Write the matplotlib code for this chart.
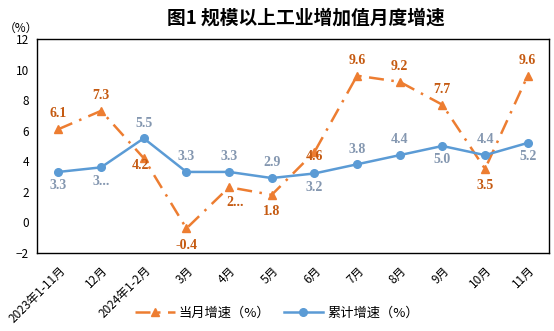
import matplotlib.pyplot as plt

plt.rcParams['font.family'] = ['Noto Sans CJK SC', 'DejaVu Sans']

# categories and values
months = ["2023年1-11月", "12月", "2024年1-2月", "3月", "4月", "5月",
          "6月", "7月", "8月", "9月", "10月", "11月"]
monthly = [6.1, 7.3, 4.2, -0.4, 2.3, 1.8, 4.6, 9.6, 9.2, 7.7, 3.5, 9.6]
cumulative = [3.3, 3.6, 5.5, 3.3, 3.3, 2.9, 3.2, 3.8, 4.4, 5.0, 4.4, 5.2]
# Excel truncated a couple of labels in the original
monthly_text = ["6.1", "7.3", "4.2", "-0.4", "2...", "1.8", "4.6", "9.6", "9.2", "7.7", "3.5", "9.6"]
cumulative_text = ["3.3", "3...", "5.5", "3.3", "3.3", "2.9", "3.2", "3.8", "4.4", "5.0", "4.4", "5.2"]

# label placement (offset in points)
monthly_off = [(0, 11), (0, 11), (-2, -5), (0, -12), (4, -11), (0, -12),
               (0, -3), (0, 11), (0, 11), (0, 11), (0, -12), (0, 11)]
cumulative_off = [(0, -10), (0, -10), (0, 11), (0, 11), (0, 11), (0, 11),
                  (0, -10), (0, 11), (0, 11), (0, -10), (0, 11), (0, -10)]

ORANGE = "#ED7D31"
BLUE = "#5B9BD5"

fig = plt.figure(figsize=(5.54, 3.31), dpi=100)
ax = fig.add_axes([0.067, 0.236, 0.924, 0.646])

x = list(range(len(months)))
ax.plot(x, monthly, color=ORANGE, lw=1.8, ls=(0, (6, 3, 1, 3)), marker="^",
        ms=6, label="当月增速（%）")
ax.plot(x, cumulative, color=BLUE, lw=1.8, marker="o", ms=5.5,
        label="累计增速（%）")

for i in x:
    ax.annotate(monthly_text[i], (i, monthly[i]), xytext=monthly_off[i],
                textcoords="offset points", ha="center", va="center",
                family="Liberation Serif", weight="bold", fontsize=10,
                color="#C55A11")
    ax.annotate(cumulative_text[i], (i, cumulative[i]), xytext=cumulative_off[i],
                textcoords="offset points", ha="center", va="center",
                family="Liberation Serif", weight="bold", fontsize=10,
                color="#8497B0")

ax.set_xlim(-0.5, 11.5)
ax.set_ylim(-2, 12)
ax.set_yticks(range(-2, 13, 2))
ax.set_xticks(x)
ax.set_xticklabels(months, rotation=45, ha="right", rotation_mode="anchor",
                   fontsize=8.5)
ax.tick_params(axis="y", labelsize=8.5, length=0, pad=6)
ax.tick_params(axis="x", length=0, pad=8)
for s in ax.spines.values():
    s.set_linewidth(1.0)
    s.set_color("black")

fig.text(0.553, 0.945, "图1 规模以上工业增加值月度增速", ha="center", va="center",
         fontsize=13.5, weight="bold")
fig.text(0.038, 0.915, "（%）", ha="center", va="center", fontsize=8.5)

fig.legend(loc="center", bbox_to_anchor=(0.5, 0.055), ncol=2, frameon=False,
           fontsize=9.5, handlelength=3, columnspacing=1.0, handletextpad=0.3)

fig.savefig("out.png", dpi=100)
